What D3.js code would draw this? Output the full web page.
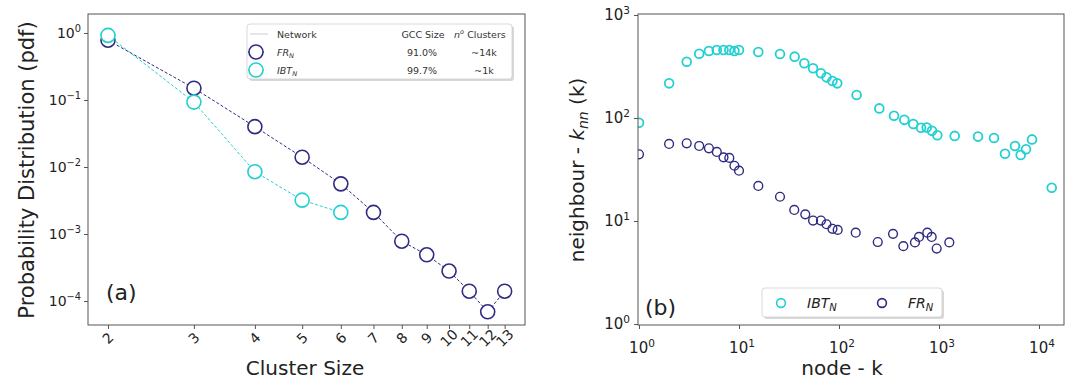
<!DOCTYPE html>
<html>
<head>
<meta charset="utf-8">
<script src="https://cdn.jsdelivr.net/npm/d3@7"></script>
<style>
  body { margin: 0; background: #fff; }
  svg { font-family: "DejaVu Sans", sans-serif; }
</style>
</head>
<body>
<svg id="chart" width="1072" height="381"></svg>
<script>
// ---------- DATA ----------
const clusterSizes = [2, 3, 4, 5, 6, 7, 8, 9, 10, 11, 12, 13];
const frPdf  = [0.78, 0.15, 0.040, 0.014, 0.0056, 0.0021, 0.00078, 0.00049, 0.00028, 0.00014, 0.000069, 0.00014];
const ibtSizes = [2, 3, 4, 5, 6];
const ibtPdf = [0.92, 0.093, 0.0085, 0.0032, 0.0021];
const leftYTicks = [0, -1, -2, -3, -4];

const ibtK   = [1, 2, 3, 4, 5, 6, 7, 8, 9, 10, 15.6, 25.7, 36, 45, 55, 66, 75, 86, 96, 150, 253, 355, 450, 553, 661, 753, 851, 962, 1435, 2455, 3548, 4571, 5754, 6561, 7413, 8511, 13400];
const ibtKnn = [90, 217, 352, 421, 447, 457, 457, 457, 447, 457, 437, 418, 394, 340, 304, 272, 248, 229, 217, 167, 124, 105, 96, 87.5, 80.5, 81, 75, 68, 67, 66, 64, 45, 53.5, 43.7, 49.7, 62, 21];
const frK    = [1, 2, 3, 4, 5, 6, 7, 8, 9, 10, 15.6, 25.7, 35.7, 46, 55, 66, 75, 86, 97, 147, 244, 347, 440, 575, 631, 764, 845, 948, 1268];
const frKnn  = [44.4, 56, 56.8, 53.5, 50.8, 46.8, 41.5, 41, 34.4, 30.8, 21.9, 17.2, 12.8, 11.6, 10.1, 10.1, 9.3, 8.4, 8.2, 7.7, 6.25, 7.5, 5.7, 6.2, 7.0, 7.7, 7.0, 5.4, 6.2];
const rightXTicks = [0, 1, 2, 3, 4];
const rightYTicks = [0, 1, 2, 3];

const legendRows = [
  { name: "FR", sub: "N", gcc: "91.0%", clusters: "~14k" },
  { name: "IBT", sub: "N", gcc: "99.7%", clusters: "~1k" }
];

// ---------- STYLE ----------
const NAVY = "#2e2b80";
const CYAN = "#22d0d2";
const SPINE = "#555";
const TXT = "#222";

const svg = d3.select("#chart");

function pow10Label(sel, exp, size) {
  sel.append("tspan").text("10");
  sel.append("tspan")
    .attr("font-size", size * 0.7)
    .attr("dy", -size * 0.42)
    .text(exp < 0 ? "\u2212" + (-exp) : String(exp));
}

// ================= LEFT PANEL =================
const L = { x0: 88, x1: 525, y0: 14, y1: 325 };
const xL = d3.scaleLog().domain([1.820, 14.31]).range([L.x0, L.x1]);
const yL = d3.scaleLog().domain([4.385e-5, 1.92]).range([L.y1, L.y0]);

const gL = svg.append("g");

// axes ticks
gL.append("g").attr("transform", `translate(0,${L.y1})`)
  .call(d3.axisBottom(xL).tickValues(clusterSizes).tickFormat("").tickSize(4))
  .call(g => g.select(".domain").remove())
  .call(g => g.selectAll("line").attr("stroke", SPINE));
gL.append("g").attr("transform", `translate(${L.x0},0)`)
  .call(d3.axisLeft(yL).tickValues(leftYTicks.map(e => Math.pow(10, e))).tickFormat("").tickSize(4))
  .call(g => g.select(".domain").remove())
  .call(g => g.selectAll("line").attr("stroke", SPINE));

// x tick labels (rotated)
gL.selectAll("text.xl").data(clusterSizes).enter().append("text")
  .attr("class", "xl")
  .attr("transform", d => `translate(${xL(d)},${338}) rotate(-45)`)
  .attr("text-anchor", "middle").attr("dominant-baseline", "central")
  .attr("font-size", 14).attr("fill", TXT)
  .text(d => d);

// y tick labels
leftYTicks.forEach(e => {
  const t = gL.append("text")
    .attr("x", 81).attr("y", yL(Math.pow(10, e)) + 5)
    .attr("text-anchor", "end").attr("font-size", 14).attr("fill", TXT);
  pow10Label(t, e, 14);
});

// frame
gL.append("rect").attr("x", L.x0).attr("y", L.y0)
  .attr("width", L.x1 - L.x0).attr("height", L.y1 - L.y0)
  .attr("fill", "none").attr("stroke", SPINE).attr("stroke-width", 1);

// axis titles
gL.append("text").attr("transform", `translate(34,170) rotate(-90)`)
  .attr("text-anchor", "middle").attr("font-size", 21).attr("fill", TXT)
  .text("Probability Distribution (pdf)");
gL.append("text").attr("x", 305).attr("y", 375)
  .attr("text-anchor", "middle").attr("font-size", 20).attr("fill", TXT)
  .text("Cluster Size");
gL.append("text").attr("x", 106).attr("y", 300)
  .attr("font-size", 22).attr("fill", TXT).text("(a)");

const lineL = d3.line().x(d => xL(d[0])).y(d => yL(d[1]));
const frPts = clusterSizes.map((s, i) => [s, frPdf[i]]);
const ibtPts = ibtSizes.map((s, i) => [s, ibtPdf[i]]);

[[frPts, NAVY], [ibtPts, CYAN]].forEach(([pts, col]) => {
  gL.append("path").datum(pts).attr("d", lineL)
    .attr("fill", "none").attr("stroke", col).attr("stroke-width", 1)
    .attr("stroke-dasharray", "3,2");
  gL.selectAll(null).data(pts).enter().append("circle")
    .attr("cx", d => xL(d[0])).attr("cy", d => yL(d[1])).attr("r", 7)
    .attr("fill", "#fff").attr("stroke", col).attr("stroke-width", 1.6);
});

// left legend
const lg = gL.append("g");
lg.append("rect").attr("x", 249).attr("y", 26).attr("width", 265).attr("height", 55)
  .attr("rx", 3).attr("fill", "#d8d8d8");
lg.append("rect").attr("x", 247).attr("y", 24).attr("width", 265).attr("height", 55)
  .attr("rx", 3).attr("fill", "#fff").attr("stroke", "#cfcfcf").attr("stroke-width", 0.8);
const fs = 9.5;
lg.append("line").attr("x1", 250).attr("x2", 268).attr("y1", 34).attr("y2", 34)
  .attr("stroke", "#ccc").attr("stroke-width", 1);
lg.append("text").attr("x", 277).attr("y", 37.5).attr("font-size", fs).attr("fill", "#333").text("Network");
lg.append("text").attr("x", 423).attr("y", 37.5).attr("font-size", fs).attr("fill", "#333")
  .attr("text-anchor", "middle").text("GCC Size");
const nc = lg.append("text").attr("x", 454).attr("y", 37.5).attr("font-size", fs).attr("fill", "#333");
nc.append("tspan").attr("font-style", "italic").text("n");
nc.append("tspan").attr("font-size", fs * 0.7).attr("dy", -4).attr("font-style", "italic").text("o");
nc.append("tspan").attr("dy", 4).text(" Clusters");

legendRows.forEach((r, i) => {
  const y = 52 + i * 18;
  const col = i === 0 ? NAVY : CYAN;
  lg.append("line").attr("x1", 248).attr("x2", 264).attr("y1", y).attr("y2", y)
    .attr("stroke", col).attr("stroke-width", 1).attr("stroke-dasharray", "3,2");
  lg.append("circle").attr("cx", 256).attr("cy", y).attr("r", 7)
    .attr("fill", "#fff").attr("stroke", col).attr("stroke-width", 1.6);
  const t = lg.append("text").attr("x", 277).attr("y", y + 3.5).attr("font-size", fs)
    .attr("fill", "#333").attr("font-style", "italic");
  t.append("tspan").text(r.name);
  t.append("tspan").attr("font-size", fs * 0.7).attr("dy", 2).text(r.sub);
  lg.append("text").attr("x", 422).attr("y", y + 3.5).attr("font-size", fs).attr("fill", "#333")
    .attr("text-anchor", "middle").text(r.gcc);
  lg.append("text").attr("x", 484).attr("y", y + 3.5).attr("font-size", fs).attr("fill", "#333")
    .attr("text-anchor", "middle").text(r.clusters);
});

// ================= RIGHT PANEL =================
const R = { x0: 638, x1: 1064, y0: 14, y1: 325 };
const xR = d3.scaleLog().domain([Math.pow(10, -0.01), Math.pow(10, 4.25)]).range([R.x0, R.x1]);
const yR = d3.scaleLog().domain([Math.pow(10, -1 / 103), Math.pow(10, 3 + 1 / 103)]).range([R.y1, R.y0]);

const gR = svg.append("g");
gR.append("g").attr("transform", `translate(0,${R.y1})`)
  .call(d3.axisBottom(xR).tickValues(rightXTicks.map(e => Math.pow(10, e))).tickFormat("").tickSize(4))
  .call(g => g.select(".domain").remove())
  .call(g => g.selectAll("line").attr("stroke", SPINE));
gR.append("g").attr("transform", `translate(${R.x0},0)`)
  .call(d3.axisLeft(yR).tickValues(rightYTicks.map(e => Math.pow(10, e))).tickFormat("").tickSize(4))
  .call(g => g.select(".domain").remove())
  .call(g => g.selectAll("line").attr("stroke", SPINE));

rightXTicks.forEach(e => {
  const t = gR.append("text").attr("x", xR(Math.pow(10, e)) + 3).attr("y", 353)
    .attr("text-anchor", "middle").attr("font-size", 15).attr("fill", TXT);
  pow10Label(t, e, 15);
});
rightYTicks.forEach(e => {
  const t = gR.append("text").attr("x", 630).attr("y", yR(Math.pow(10, e)) + 5)
    .attr("text-anchor", "end").attr("font-size", 15).attr("fill", TXT);
  pow10Label(t, e, 15);
});

// clip
svg.append("clipPath").attr("id", "clipR").append("rect")
  .attr("x", R.x0).attr("y", R.y0).attr("width", R.x1 - R.x0).attr("height", R.y1 - R.y0);

const pts = gR.append("g").attr("clip-path", "url(#clipR)");
pts.selectAll(null).data(ibtK.map((k, i) => [k, ibtKnn[i]])).enter().append("circle")
  .attr("cx", d => xR(d[0])).attr("cy", d => yR(d[1])).attr("r", 4.4)
  .attr("fill", "none").attr("stroke", CYAN).attr("stroke-width", 1.8);
pts.selectAll(null).data(frK.map((k, i) => [k, frKnn[i]])).enter().append("circle")
  .attr("cx", d => xR(d[0])).attr("cy", d => yR(d[1])).attr("r", 4.4)
  .attr("fill", "none").attr("stroke", NAVY).attr("stroke-width", 1.4);

gR.append("rect").attr("x", R.x0).attr("y", R.y0)
  .attr("width", R.x1 - R.x0).attr("height", R.y1 - R.y0)
  .attr("fill", "none").attr("stroke", SPINE).attr("stroke-width", 1);

// titles
const yt = gR.append("text").attr("transform", `translate(584,170) rotate(-90)`)
  .attr("text-anchor", "middle").attr("font-size", 20).attr("fill", TXT);
yt.append("tspan").text("neighbour - ");
yt.append("tspan").attr("font-style", "italic").text("k");
yt.append("tspan").attr("font-style", "italic").attr("font-size", 14).attr("dy", 4).text("nn");
yt.append("tspan").attr("dy", -4).text(" (k)");

gR.append("text").attr("x", 842).attr("y", 375)
  .attr("text-anchor", "middle").attr("font-size", 20).attr("fill", TXT).text("node - k");
gR.append("text").attr("x", 645).attr("y", 315)
  .attr("font-size", 22).attr("fill", TXT).text("(b)");

// right legend
const rl = gR.append("g");
rl.append("rect").attr("x", 764).attr("y", 290).attr("width", 180).attr("height", 29)
  .attr("rx", 3).attr("fill", "#d8d8d8");
rl.append("rect").attr("x", 762).attr("y", 288).attr("width", 180).attr("height", 29)
  .attr("rx", 3).attr("fill", "#fff").attr("stroke", "#cfcfcf").attr("stroke-width", 0.8);
[["IBT", CYAN, 781, 807], ["FR", NAVY, 882, 908]].forEach(([n, c, cx, tx]) => {
  rl.append("circle").attr("cx", cx).attr("cy", 303).attr("r", 4.4)
    .attr("fill", "none").attr("stroke", c).attr("stroke-width", 1.6);
  const t = rl.append("text").attr("x", tx).attr("y", 308).attr("font-size", 14)
    .attr("fill", TXT).attr("font-style", "italic");
  t.append("tspan").text(n);
  t.append("tspan").attr("font-size", 10).attr("dy", 3).text("N");
});
</script>
</body>
</html>
